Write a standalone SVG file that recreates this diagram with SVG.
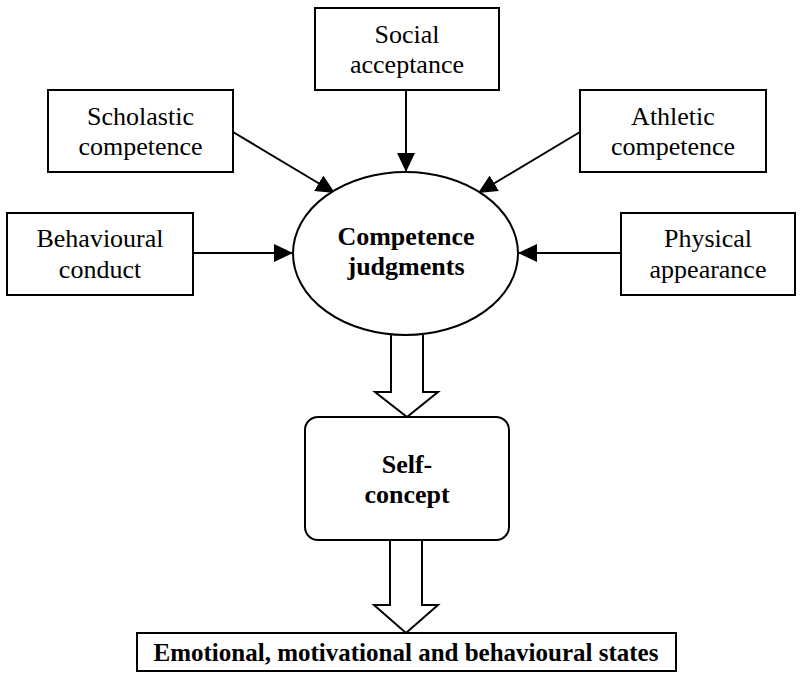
<svg xmlns="http://www.w3.org/2000/svg" width="800" height="679" viewBox="0 0 800 679">
<style>
.box{fill:#fff;stroke:#000;stroke-width:2}
.t{font-family:'Liberation Serif','DejaVu Serif',serif;font-size:26px;fill:#000;text-anchor:middle}
.b{font-weight:bold}
.c{stroke:#000;stroke-width:2;fill:none}
.h{fill:#fff;stroke:#000;stroke-width:2;stroke-linejoin:miter}
</style>
<defs>
<marker id="ah" markerWidth="19" markerHeight="18" refX="19" refY="9" orient="auto" markerUnits="userSpaceOnUse">
<path d="M0,0 L19,9 L0,18 Z" fill="#000"/>
</marker>
</defs>
<g id="connectors">
<line class="c" x1="406" y1="90" x2="406" y2="172" marker-end="url(#ah)"/>
<line class="c" x1="233" y1="132" x2="335" y2="193" marker-end="url(#ah)"/>
<line class="c" x1="580" y1="132" x2="478" y2="193" marker-end="url(#ah)"/>
<line class="c" x1="193" y1="253" x2="293" y2="253" marker-end="url(#ah)"/>
<line class="c" x1="621" y1="253" x2="518" y2="253" marker-end="url(#ah)"/>
<path class="h" d="M391,335 L391,392 L375,392 L407,417 L438,392 L423,392 L423,335"/>
<path class="h" d="M390,540 L390,605 L374,605 L406,633 L438,605 L422,605 L422,540"/>
</g>
<g id="social">
<rect class="box" x="315" y="8" width="184" height="82"/>
<text class="t" x="407" y="43">Social</text>
<text class="t" x="407" y="73">acceptance</text>
</g>
<g id="scholastic">
<rect class="box" x="48" y="90" width="185" height="82"/>
<text class="t" x="140.5" y="125">Scholastic</text>
<text class="t" x="140.5" y="155">competence</text>
</g>
<g id="athletic">
<rect class="box" x="580" y="90" width="186" height="82"/>
<text class="t" x="673" y="125">Athletic</text>
<text class="t" x="673" y="155">competence</text>
</g>
<g id="behavioural">
<rect class="box" x="7" y="213" width="186" height="82"/>
<text class="t" x="100" y="247">Behavioural</text>
<text class="t" x="100" y="278">conduct</text>
</g>
<g id="physical">
<rect class="box" x="621" y="213" width="174" height="82"/>
<text class="t" x="708" y="247">Physical</text>
<text class="t" x="708" y="278">appearance</text>
</g>
<g id="competence">
<ellipse class="box" cx="405.5" cy="253.5" rx="112.5" ry="81.5"/>
<text class="t b" x="406" y="245">Competence</text>
<text class="t b" x="406" y="275">judgments</text>
</g>
<g id="selfconcept">
<rect class="box" x="305" y="417" width="204" height="123" rx="13" ry="13"/>
<text class="t b" x="407" y="473">Self-</text>
<text class="t b" x="407" y="503">concept</text>
</g>
<g id="states">
<rect class="box" x="137" y="633" width="539" height="38"/>
<text class="t b" x="406" y="661" style="font-size:25px">Emotional, motivational and behavioural states</text>
</g>
</svg>
